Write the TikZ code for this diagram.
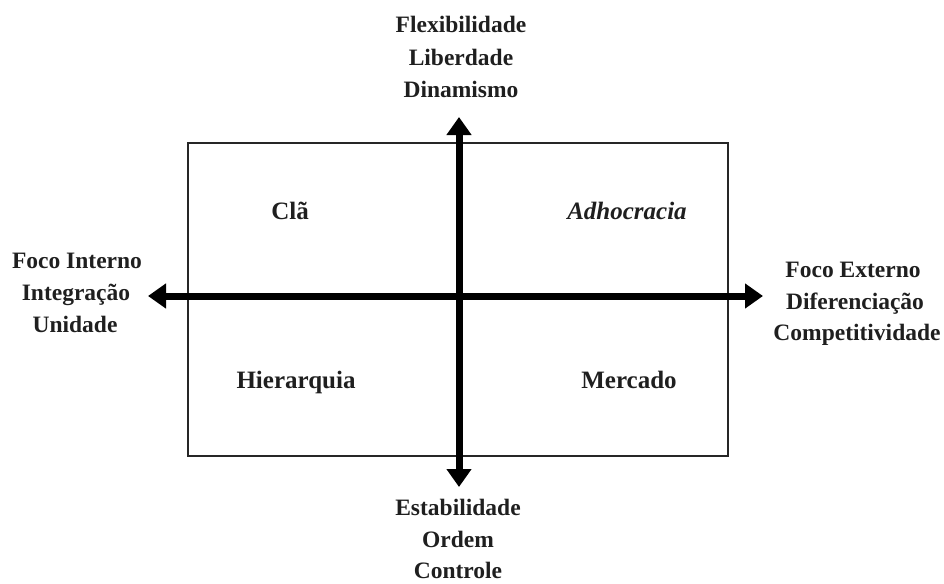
\documentclass[tikz,border=0pt]{standalone}
\usepackage{fontspec}
\setmainfont{Liberation Serif}
\usetikzlibrary{arrows.meta}
\begin{document}
\begin{tikzpicture}[x=1pt,y=-1pt,
  lbl/.style={font=\fontsize{23.5}{28}\selectfont\bfseries, anchor=base, inner sep=0pt, text=black!88},
  quad/.style={lbl, font=\fontsize{25}{30}\selectfont\bfseries},
  frame/.style={draw=black!85, line width=1.5pt},
  axis/.style={line width=7pt, {Triangle[width=24pt,length=18pt]}-{Triangle[width=24pt,length=18pt]}}]
\useasboundingbox (0,0) rectangle (944,583);

% quadrant frame
\draw[frame] (188,143) rectangle (728,456);

% axis end points
\coordinate (N) at (459,117);
\coordinate (S) at (459,487);
\coordinate (W) at (148,296);
\coordinate (E) at (763,296);

\draw[axis] (W) -- (E);
\draw[axis] (N) -- (S);

% top pole
\node[lbl] (n1) at (461,33) {Flexibilidade};
\node[lbl] (n2) at (461,66) {Liberdade};
\node[lbl] (n3) at (461,98) {Dinamismo};

% left pole
\node[lbl] (w1) at (77,268) {Foco Interno};
\node[lbl] (w2) at (76,300) {Integração};
\node[lbl] (w3) at (75,332) {Unidade};

% right pole
\node[lbl] (e1) at (853,277) {Foco Externo};
\node[lbl] (e2) at (855,309) {Diferenciação};
\node[lbl] (e3) at (857,340) {Competitividade};

% bottom pole
\node[lbl] (s1) at (458,515) {Estabilidade};
\node[lbl] (s2) at (458,547) {Ordem};
\node[lbl] (s3) at (458,578) {Controle};

% quadrants
\node[quad] (q1) at (290,219) {Clã};
\node[quad, font=\fontsize{25}{30}\selectfont\bfseries\itshape] (q2) at (627,219) {Adhocracia};
\node[quad] (q3) at (296,388) {Hierarquia};
\node[quad] (q4) at (629,388) {Mercado};
\end{tikzpicture}
\end{document}
